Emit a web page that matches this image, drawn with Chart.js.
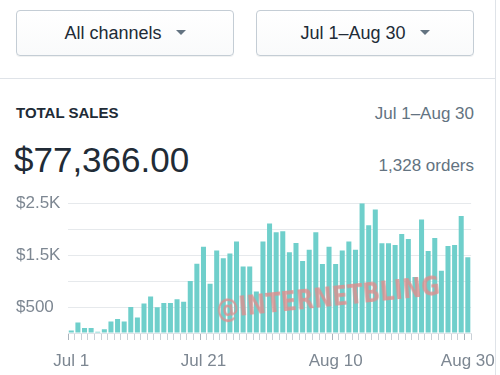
<!DOCTYPE html>
<html>
<head>
<meta charset="utf-8">
<script src="https://cdn.jsdelivr.net/npm/chart.js@4"></script>
<style>
  html, body { margin: 0; padding: 0; background: #fff; }
  body { width: 500px; height: 375px; overflow: hidden; position: relative;
         font-family: "Liberation Sans", Arial, sans-serif; color: #212b36; }
  .btn { position: absolute; top: 10px; height: 44px; width: 216px;
         border: 1px solid #c4cdd5; border-radius: 4px;
         background: linear-gradient(#ffffff, #f9fafb);
         box-shadow: 0 1px 0 rgba(22,29,37,0.06);
         font-size: 18px; color: #212b36; line-height: 44px; text-align: center; }
  .caret { display: inline-block; width: 0; height: 0; margin-left: 14px; vertical-align: middle;
           border-left: 5px solid transparent; border-right: 5px solid transparent;
           border-top: 5px solid #637381; position: relative; top: -2px; }
  .sep { position: absolute; left: 0; top: 78px; width: 496px; height: 1px; background: #dfe3e8; }
  .edge { position: absolute; left: 495px; top: 0; width: 1px; height: 375px; background: #dfe3e8; }
  .title { position: absolute; left: 16px; top: 104px; font-size: 15px; font-weight: bold; color: #212b36; }
  .range { position: absolute; right: 26px; top: 104px; font-size: 17px; color: #637381; }
  .total { position: absolute; left: 14px; top: 140px; font-size: 35px; color: #212b36; }
  .orders { position: absolute; right: 26px; top: 156px; font-size: 17px; color: #637381; }
  .wrap { position: absolute; left: 0; top: 185px; width: 500px; height: 190px; overflow: hidden; }
  .wrap canvas { position: absolute; left: 0; top: 0; }
  .mark { position: absolute; left: 218px; top: 298px; font-family: "DejaVu Sans", sans-serif;
          font-weight: bold; font-size: 22.5px; color: rgba(222,140,140,0.8);
          transform: rotate(-6deg) scaleY(1.15); transform-origin: left bottom; white-space: nowrap;
          pointer-events: none; }
</style>
</head>
<body>
<div class="btn" style="left:16px;">All channels<span class="caret"></span></div>
<div class="btn" style="left:256px;">Jul 1–Aug 30<span class="caret"></span></div>
<div class="sep"></div>
<div class="title">TOTAL SALES</div>
<div class="range">Jul 1–Aug 30</div>
<div class="total">$77,366.00</div>
<div class="orders">1,328 orders</div>
<div class="wrap"><canvas id="chart" width="506" height="190" style="width:506px;height:190px"></canvas></div>
<div class="edge"></div>
<div class="mark">@INTERNETBLING</div>
<script>
// daily sales, Jul 1 .. Aug 30
const julDays = Array.from({ length: 31 }, (_, i) => `Jul ${i + 1}`);
const augDays = Array.from({ length: 30 }, (_, i) => `Aug ${i + 1}`);
const days = julDays.concat(augDays);

const sales = [
    50, 200, 95, 95, 25, 70, 220, 270, 220, 500,
    300, 570, 705, 495, 580, 580, 650, 600, 1000, 1335,
    1660, 950, 1590, 1440, 1530, 1760, 1280, 1280, 800, 1760,
    2110, 1940, 1960, 1555, 1735, 1385, 1605, 1940, 1330, 1660,
    1330, 1590, 1760, 1605, 2500, 2075, 2380, 1730, 1730, 1695,
    1905, 1810, 1080, 2185, 1580, 1830, 1200, 1675, 1695, 2255,
    1460
];

const shownDays = ['Jul 1', 'Jul 21', 'Aug 10', 'Aug 30'];
const yLabels = { 500: '$500', 1500: '$1.5K', 2500: '$2.5K' };

const GRAY = '#7d8792';

new Chart(document.getElementById('chart').getContext('2d'), {
    type: 'bar',
    data: {
        labels: days,
        datasets: [{
            label: 'Total sales',
            data: sales,
            backgroundColor: '#6fcfcb',
            barPercentage: 0.76,
            categoryPercentage: 1,
        }]
    },
    options: {
        responsive: false, animation: false,
        layout: { padding: { left: 16, right: 30, top: 16, bottom: 6 } },
        plugins: { legend: { display: false }, tooltip: { enabled: false } },
        scales: {
            x: {
                grid: {
                    drawOnChartArea: false, tickLength: 7,
                    tickColor: (c) => shownDays.includes(days[c.index]) ? '#aab3bc' : '#c9d0d6',
                },
                border: { color: '#dfe3e8' },
                ticks: {
                    autoSkip: false, maxRotation: 0, padding: 11,
                    color: GRAY, font: { family: '"Liberation Sans", Arial', size: 17 },
                    callback: (v, i) => shownDays.includes(days[i]) ? days[i] : '',
                },
                afterFit: (s) => { s.height = 36; },
            },
            y: {
                min: 0, max: 2500,
                grid: { color: '#e6e9ec', drawTicks: false },
                border: { display: false },
                ticks: {
                    stepSize: 500, crossAlign: 'far', padding: 8,
                    color: GRAY, font: { family: '"Liberation Sans", Arial', size: 17 },
                    callback: (v) => yLabels[v] || '',
                },
                afterFit: (s) => { s.width = 52; },
            }
        }
    }
});
</script>
</body>
</html>
